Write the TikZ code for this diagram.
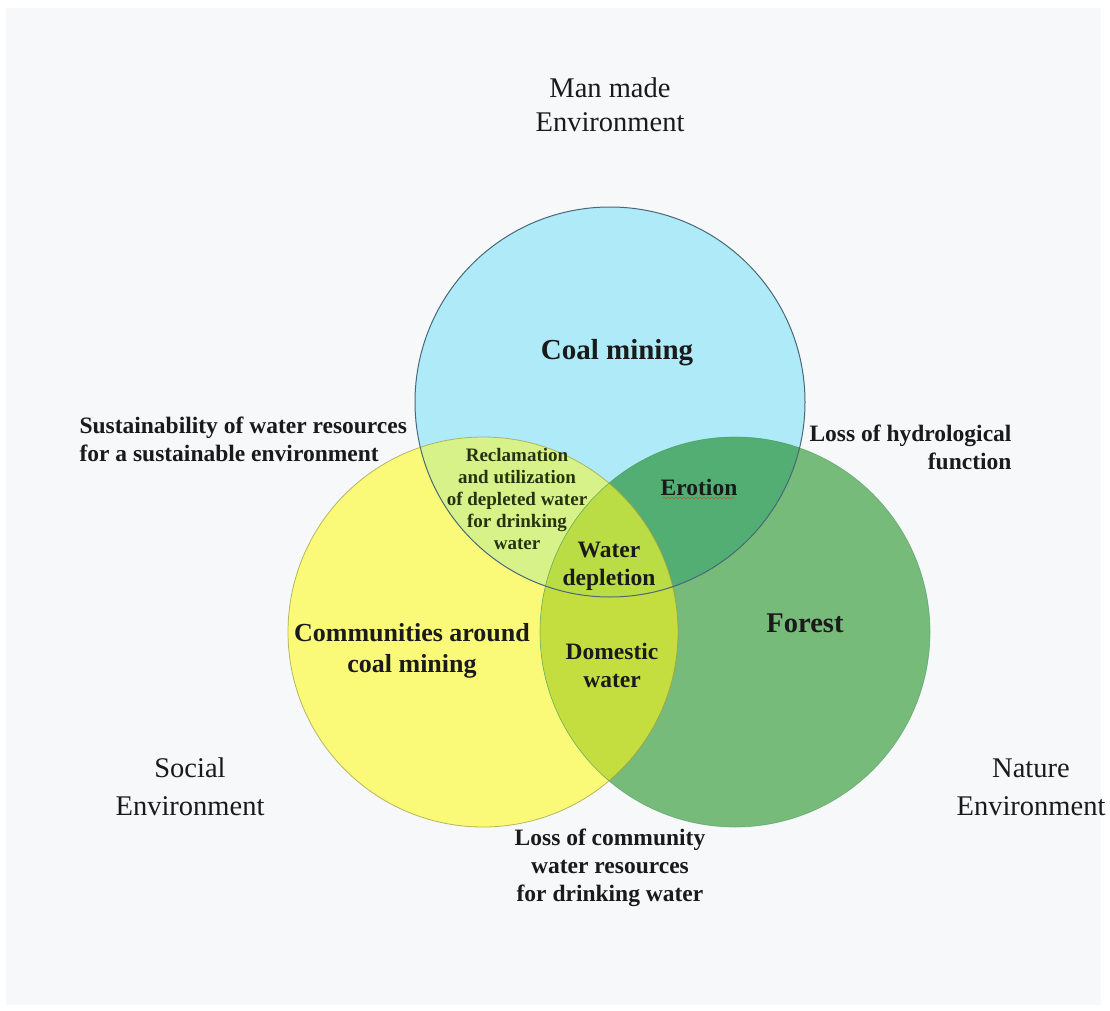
\documentclass[tikz,border=0pt]{standalone}
\usepackage{fontspec}
\setmainfont{Liberation Serif}
\usetikzlibrary{decorations.pathmorphing}
\definecolor{panel}{HTML}{F7F8FA}
\definecolor{cblue}{HTML}{AEEAF8}
\definecolor{cyell}{HTML}{FAFA78}
\definecolor{cgreen}{HTML}{76BB7A}
\definecolor{cby}{HTML}{D8F28A}
\definecolor{cbg}{HTML}{52AE72}
\definecolor{cyg}{HTML}{C4DE40}
\definecolor{cbyg}{HTML}{BADC44}
\definecolor{lblue}{HTML}{4A6878}
\definecolor{lyell}{HTML}{9A9A40}
\definecolor{lgreen}{HTML}{4E9A5E}
\definecolor{txt}{HTML}{1A1A1A}
\definecolor{olivetxt}{HTML}{26340E}
\tikzset{
  envlabel/.style={align=center, text=txt, font=\fontsize{28.5}{34}\selectfont},
  boldlabel/.style={align=center, text=txt, font=\bfseries\fontsize{23.5}{28}\selectfont},
  biglabel/.style={align=center, text=txt, font=\bfseries\fontsize{28.5}{31}\selectfont},
}
\begin{document}
\begin{tikzpicture}[x=1pt,y=-1pt]
\useasboundingbox (0,0) rectangle (1110,1011);
\fill[white] (0,0) rectangle (1110,1011);
\fill[panel] (6,8) rectangle (1101,1005);
% circle centres
\coordinate (B) at (610,402);
\coordinate (Y) at (483,632);
\coordinate (G) at (735,632);
\def\R{195}
% base fills
\fill[cblue] (B) circle (\R);
\fill[cyell] (Y) circle (\R);
\fill[cgreen] (G) circle (\R);
% overlaps
\begin{scope}
  \clip (B) circle (\R);
  \fill[cby] (Y) circle (\R);
  \fill[cbg] (G) circle (\R);
\end{scope}
\begin{scope}
  \clip (Y) circle (\R);
  \fill[cyg] (G) circle (\R);
  \clip (G) circle (\R);
  \fill[cbyg] (B) circle (\R);
\end{scope}
% outlines
\draw[lgreen, line width=0.7pt, opacity=0.6] (G) circle (\R);
\draw[lyell, line width=0.8pt, opacity=0.7] (Y) circle (\R);
\draw[lblue, line width=1pt] (B) circle (\R);
% labels
\node[envlabel] (man) at (610,105) {Man made\\Environment};
\node[envlabel, font=\fontsize{28.5}{38}\selectfont] (soc) at (190,787) {Social\\Environment};
\node[envlabel, font=\fontsize{28.5}{38}\selectfont] (nat) at (1031,787) {Nature\\Environment};
\node[biglabel, font=\bfseries\fontsize{29}{31}\selectfont] (coal) at (617,353) {Coal mining};
\node[biglabel] (forest) at (805,623) {Forest};
\node[biglabel, font=\bfseries\fontsize{26}{31}\selectfont] (comm) at (412,651) {Communities around\\coal mining};
\node[boldlabel, align=left, anchor=west] (sust) at (76,439) {Sustainability of water resources\\for a sustainable environment};
\node[boldlabel, align=right, anchor=east] (hydro) at (1015,447) {Loss of hydrological\\function};
\node[boldlabel, text=olivetxt, font=\bfseries\fontsize{19}{22}\selectfont] (recl) at (517,499) {Reclamation\\and utilization\\of depleted water\\for drinking\\water};
\node[boldlabel] (ero) at (699,487) {Erotion};
\draw[red!60!brown, line width=0.6pt, opacity=0.6, decorate, decoration={snake, amplitude=0.8pt, segment length=4pt}]
  ([xshift=-36pt,yshift=-11pt]ero.center) -- ([xshift=36pt,yshift=-11pt]ero.center);
\node[boldlabel] (wdep) at (609,566) {Water\\depletion};
\node[boldlabel] (dom) at (612,665) {Domestic\\water};
\node[boldlabel] (lossc) at (610,868) {Loss of community\\water resources\\for drinking water};
\end{tikzpicture}
\end{document}
